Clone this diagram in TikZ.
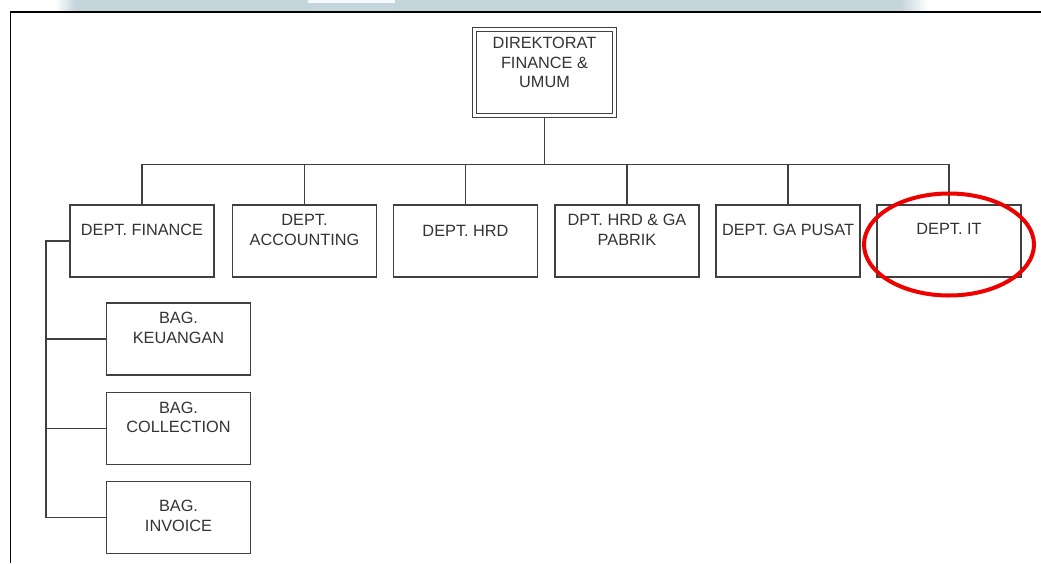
\documentclass[tikz,border=0pt]{standalone}
\usepackage{fontspec}
\setmainfont{Liberation Sans}
\begin{document}
\begin{tikzpicture}[x=1pt,y=-1pt,
  box/.style={draw=linegray,line width=1.3pt,inner sep=0pt,outer sep=0pt,minimum width=144pt,minimum height=72pt},
  txt/.style={text=textgray,align=center,inner sep=0pt,font=\fontsize{16.3}{19.5}\selectfont},
  conn/.style={draw=linegray,line width=1.3pt}]
\definecolor{linegray}{HTML}{404040}
\definecolor{textgray}{HTML}{333333}
\definecolor{band}{HTML}{C4D5DC}
\useasboundingbox (0,0) rectangle (1041,563);
% top band
\fill[left color=white,right color=band] (55,0) rectangle (75,11);
\fill[band] (75,0) rectangle (900,11);
\fill[left color=band,right color=white] (900,0) rectangle (928,11);
\fill[white!85!band] (308,0) rectangle (395,3);
% frame
\draw[black,line width=1.4pt] (10.5,563) -- (10.5,12) -- (1041,12);
% director
\node[box,minimum height=90pt] (dir) at (544.5,72.5) {};
\draw[linegray,line width=1.3pt] ([shift={(4pt,-4pt)}]dir.north west) rectangle ([shift={(-4pt,4pt)}]dir.south east);
\node[txt] at ([yshift=10pt]dir.center) {DIREKTORAT\\FINANCE \&\\UMUM};
% departments
\node[box] (fin) at (142,241) {};
\node[box] (acc) at (304.5,241) {};
\node[box] (hrd) at (465.5,241) {};
\node[box] (pab) at (627,241) {};
\node[box] (gap) at (788,241) {};
\node[box] (it) at (949,241) {};
\node[txt] at ([yshift=11pt]fin.center) {DEPT. FINANCE};
\node[txt] at ([yshift=11pt]acc.center) {DEPT.\\ACCOUNTING};
\node[txt] at ([yshift=10pt]hrd.center) {DEPT. HRD};
\node[txt] at ([yshift=11pt]pab.center) {DPT. HRD \& GA\\PABRIK};
\node[txt] at ([yshift=11pt]gap.center) {DEPT. GA PUSAT};
\node[txt] at ([yshift=12pt]it.center) {DEPT. IT};
% sub units
\node[box] (keu) at (178.5,339) {};
\node[box] (col) at (178.5,428.5) {};
\node[box] (inv) at (178.5,517.5) {};
\node[txt] at ([yshift=11pt]keu.center) {BAG.\\KEUANGAN};
\node[txt] at ([yshift=11pt]col.center) {BAG.\\COLLECTION};
\node[txt] at ([yshift=1.5pt]inv.center) {BAG.\\INVOICE};
% connectors
\coordinate (busy) at (0,164.5);
\coordinate (sp) at (46,241);
\draw[conn] (dir.south) -- (dir.south |- busy);
\draw[conn] (fin.north) -- (fin.north |- busy) -- (it.north |- busy) -- (it.north);
\draw[conn] (acc.north) -- (acc.north |- busy);
\draw[conn] (hrd.north) -- (hrd.north |- busy);
\draw[conn] (pab.north) -- (pab.north |- busy);
\draw[conn] (gap.north) -- (gap.north |- busy);
\draw[conn] (fin.west) -- (sp) |- (inv.west);
\draw[conn] (sp |- keu.west) -- (keu.west);
\draw[conn] (sp |- col.west) -- (col.west);
% highlight
\draw[red!93!black,line width=4pt] (949,244.5) ellipse [x radius=85, y radius=51];
\end{tikzpicture}
\end{document}
